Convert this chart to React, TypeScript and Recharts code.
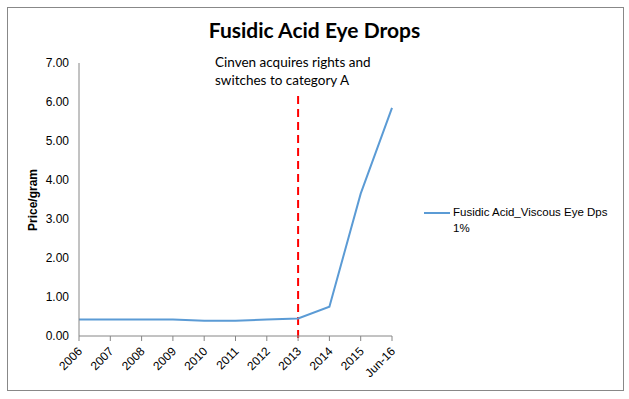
import { Line, LineChart, ReferenceLine, XAxis, YAxis } from "recharts";

const periods = ["2006", "2007", "2008", "2009", "2010", "2011", "2012", "2013", "2014", "2015", "Jun-16"];
const prices = [0.42, 0.42, 0.42, 0.42, 0.39, 0.39, 0.42, 0.45, 0.75, 3.65, 5.85];
const yTicks = [0, 1, 2, 3, 4, 5, 6, 7];
const seriesName = "Fusidic Acid_Viscous Eye Dps 1%";
const eventPeriod = "2013";

const data = periods.map((p, i) => ({ period: p, price: prices[i] }));

const small = "'Liberation Sans', Arial, sans-serif";
const calibriLike = "Lato, 'Open Sans', sans-serif";

function XTick({ x, y, payload }: any) {
  return (
    <text
      x={x + 4}
      y={y + 9}
      transform={`rotate(-45, ${x + 4}, ${y + 9})`}
      textAnchor="end"
      fontSize={12}
      fontFamily={small}
      fill="#000"
    >
      {payload.value}
    </text>
  );
}

export default function App() {
  return (
    <div style={{ position: "absolute", left: 0, top: 0, width: 629, height: 399, background: "#fff" }}>
      <div
        style={{
          position: "absolute",
          left: 7,
          top: 7,
          width: 615,
          height: 382,
          border: "1px solid #888",
        }}
      />
      <div
        style={{
          position: "absolute",
          left: 0,
          width: 629,
          top: 17,
          textAlign: "center",
          fontFamily: calibriLike,
          fontWeight: 700,
          fontSize: 21,
        }}
      >
        Fusidic Acid Eye Drops
      </div>
      <div
        style={{
          position: "absolute",
          left: 215,
          top: 53,
          fontFamily: calibriLike,
          fontSize: 13.5,
          lineHeight: "18px",
        }}
      >
        Cinven acquires rights and
        <br />
        switches to category A
      </div>
      <div
        style={{
          position: "absolute",
          left: 33,
          top: 200,
          transform: "translate(-50%, -50%) rotate(-90deg)",
          fontFamily: small,
          fontWeight: 700,
          fontSize: 12,
          whiteSpace: "nowrap",
        }}
      >
        Price/gram
      </div>
      <div style={{ position: "absolute", left: 0, top: 0 }}>
        <LineChart width={629} height={399} data={data} margin={{ top: 63, right: 237, bottom: 0, left: 0 }}>
          <XAxis
            dataKey="period"
            interval={0}
            stroke="#868686"
            tickSize={5}
            tick={<XTick />}
            height={63}
          />
          <YAxis
            domain={[0, 7]}
            ticks={yTicks}
            width={79}
            stroke="#868686"
            tickLine={false}
            tickMargin={4}
            tickFormatter={(v: number) => v.toFixed(2)}
            tick={{ fill: "#000", fontSize: 12, fontFamily: small }}
          />
          <ReferenceLine
            segment={[
              { x: eventPeriod, y: -0.05 },
              { x: eventPeriod, y: 6.2 },
            ]}
            stroke="#FF0000"
            strokeWidth={2}
            strokeDasharray="8 5"
            ifOverflow="visible"
          />
          <Line
            type="linear"
            dataKey="price"
            name={seriesName}
            stroke="#5B9BD5"
            strokeWidth={2}
            dot={false}
            isAnimationActive={false}
          />
        </LineChart>
      </div>
      <div
        style={{
          position: "absolute",
          left: 424,
          top: 204,
          display: "flex",
          alignItems: "flex-start",
          fontFamily: small,
          fontSize: 11.5,
          color: "#000",
        }}
      >
        <div style={{ width: 26, height: 2, background: "#5B9BD5", marginTop: 8, marginRight: 3 }} />
        <div style={{ lineHeight: "16px", width: 180 }}>
          Fusidic Acid_Viscous Eye Dps
          <br />
          1%
        </div>
      </div>
    </div>
  );
}
